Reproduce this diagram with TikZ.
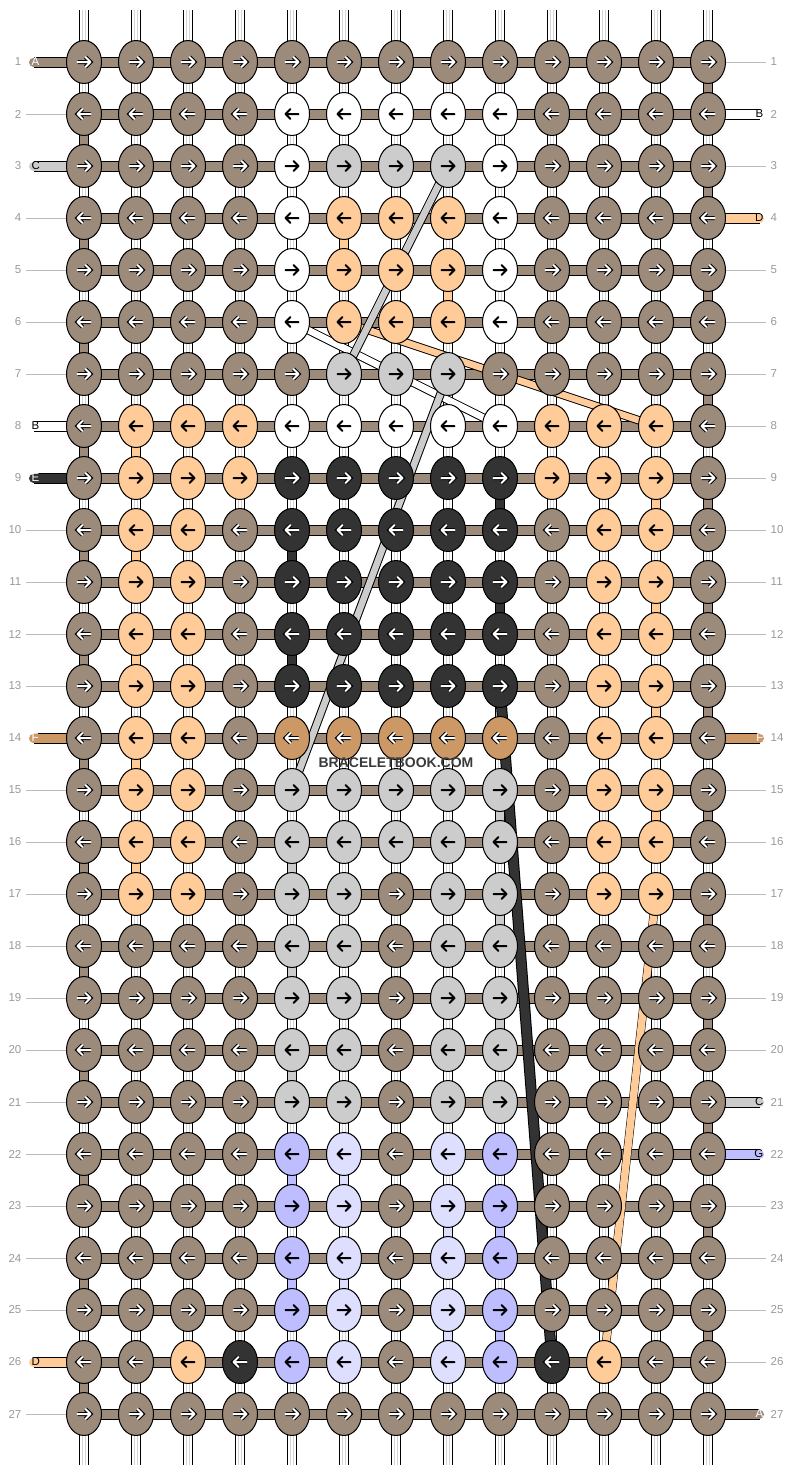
\documentclass[tikz,border=0pt]{standalone}
\usepackage{fontspec}
\setmainfont{Liberation Sans}
\usetikzlibrary{shapes.geometric}

% thread colours
\definecolor{ka}{HTML}{9C8A7A}
\definecolor{kw}{HTML}{FFFFFF}
\definecolor{kg}{HTML}{CCCCCC}
\definecolor{kp}{HTML}{FFCC99}
\definecolor{kd}{HTML}{333333}
\definecolor{kt}{HTML}{CC9966}
\definecolor{kl}{HTML}{BDBDFF}
\definecolor{km}{HTML}{DEDEFF}
% arrow colour and arrow halo for each knot colour
\colorlet{aa}{white}\colorlet{ha}{black}
\colorlet{ad}{white}\colorlet{hd}{black}
\colorlet{at}{white}\colorlet{ht}{black}
\colorlet{aw}{black}\colorlet{hw}{kw}
\colorlet{ag}{black}\colorlet{hg}{kg}
\colorlet{ap}{black}\colorlet{hp}{kp}
\colorlet{al}{black}\colorlet{hl}{kl}
\colorlet{am}{black}\colorlet{hm}{km}
\definecolor{warpline}{HTML}{D4D4D4}
\definecolor{guidegray}{HTML}{BBBBBB}
\definecolor{numgray}{HTML}{999999}
\definecolor{wm}{HTML}{3A3A3A}

\pgfdeclarelayer{warps}
\pgfdeclarelayer{threads}
\pgfdeclarelayer{cross}
\pgfsetlayers{warps,threads,cross,main}

\tikzstyle{knot} = [ellipse, draw=black, line width=1pt,
    minimum width=35pt, minimum height=43pt, inner sep=0pt]
\tikzstyle{warp} = [draw=white, line width=2.2pt, line cap=round,
    preaction={draw=black, line width=10pt},
    preaction={draw=white, line width=8pt},
    preaction={draw=warpline, line width=3.8pt}]
\tikzstyle{bar} = [draw=ka, line width=9pt, preaction={draw=black, line width=11pt}]
\tikzstyle{tail} = [bar, line cap=round]
\tikzstyle{seg} = [line width=8pt, preaction={draw=black, line width=10pt}]
\tikzstyle{diag} = [line width=6.5pt, preaction={draw=black, line width=8.5pt}]
\tikzstyle{wide diag} = [line width=9pt, preaction={draw=black, line width=11pt}]
\tikzstyle{guide} = [draw=guidegray, line width=1pt]
\tikzstyle{rownum} = [text=numgray, font=\fontsize{11.5}{12}\selectfont, inner sep=0pt]
\tikzstyle{tag} = [font=\fontsize{11.5}{12}\selectfont, inner sep=0pt]
\tikzstyle{arrowline} = [line width=2pt, line cap=round, line join=round]

\begin{document}
\begin{tikzpicture}[x=1pt, y=-1pt]
	\useasboundingbox (0,0) rectangle (792,1476);

	% knots, row by row
	\foreach \knots [count=\ri] in {
		{a,a,a,a,a,a,a,a,a,a,a,a,a},
		{a,a,a,a,w,w,w,w,w,a,a,a,a},
		{a,a,a,a,w,g,g,g,w,a,a,a,a},
		{a,a,a,a,w,p,p,p,w,a,a,a,a},
		{a,a,a,a,w,p,p,p,w,a,a,a,a},
		{a,a,a,a,w,p,p,p,w,a,a,a,a},
		{a,a,a,a,a,g,g,g,a,a,a,a,a},
		{a,p,p,p,w,w,w,w,w,p,p,p,a},
		{a,p,p,p,d,d,d,d,d,p,p,p,a},
		{a,p,p,a,d,d,d,d,d,a,p,p,a},
		{a,p,p,a,d,d,d,d,d,a,p,p,a},
		{a,p,p,a,d,d,d,d,d,a,p,p,a},
		{a,p,p,a,d,d,d,d,d,a,p,p,a},
		{a,p,p,a,t,t,t,t,t,a,p,p,a},
		{a,p,p,a,g,g,g,g,g,a,p,p,a},
		{a,p,p,a,g,g,g,g,g,a,p,p,a},
		{a,p,p,a,g,g,a,g,g,a,p,p,a},
		{a,a,a,a,g,g,a,g,g,a,a,a,a},
		{a,a,a,a,g,g,a,g,g,a,a,a,a},
		{a,a,a,a,g,g,a,g,g,a,a,a,a},
		{a,a,a,a,g,g,a,g,g,a,a,a,a},
		{a,a,a,a,l,m,a,m,l,a,a,a,a},
		{a,a,a,a,l,m,a,m,l,a,a,a,a},
		{a,a,a,a,l,m,a,m,l,a,a,a,a},
		{a,a,a,a,l,m,a,m,l,a,a,a,a},
		{a,a,p,d,l,m,a,m,l,d,p,a,a},
		{a,a,a,a,a,a,a,a,a,a,a,a,a}} {
		\pgfmathsetmacro\y{62+52*(\ri-1)}
		\pgfmathtruncatemacro\dir{ifthenelse(isodd(\ri),1,-1)}
		\foreach \kc [count=\ci] in \knots {
			\pgfmathsetmacro\x{84+52*(\ci-1)}
			\node [knot, fill=k\kc] (k\ri-\ci) at (\x,\y) {};
			\draw [arrowline, draw=a\kc, preaction={draw=h\kc, line width=4pt},
				shift={(\x,\y)}, xscale=\dir] (-6.5,0) -- (6.5,0) (1.5,-5) -- (6.5,0) -- (1.5,5);
		}
		\node [rownum, anchor=east] (nl\ri) at (21.5,\y) {\ri};
		\node [rownum, anchor=west] (nr\ri) at (770.5,\y) {\ri};
	}

	% warp strings
	\foreach \ci in {1,...,13} {
		\pgfmathsetmacro\x{84+52*(\ci-1)}
		\coordinate (wt\ci) at (\x,10);
		\coordinate (wb\ci) at (\x,1465);
	}
	\begin{pgfonlayer}{warps}
		\foreach \ci in {1,...,13}
			\path [warp] (wt\ci) -- (wb\ci);
	\end{pgfonlayer}

	% thread ends with their letters
	\foreach \ri/\tc/\tl/\tt in {1/ka/A/white, 3/kg/C/black, 8/kw/B/black,
			9/kd/E/white, 14/kt/F/white, 26/kp/D/black} {
		\pgfmathsetmacro\y{62+52*(\ri-1)}
		\coordinate (ls\ri) at (33.5,\y);
		\node [tag, text=\tt, anchor=west] (lt\ri) at (31.5,\y) {\tl};
		\begin{pgfonlayer}{threads}
			\path [tail, draw=\tc] (ls\ri) -- (k\ri-1.center);
		\end{pgfonlayer}
	}
	\foreach \ri/\tc/\tl/\tt in {2/kw/B/black, 4/kp/D/black, 14/kt/F/white,
			21/kg/C/black, 22/kl/G/black, 27/ka/A/white} {
		\pgfmathsetmacro\y{62+52*(\ri-1)}
		\coordinate (rs\ri) at (759.5,\y);
		\node [tag, text=\tt, anchor=east] (rt\ri) at (763.5,\y) {\tl};
		\begin{pgfonlayer}{threads}
			\path [tail, draw=\tc] (k\ri-13.center) -- (rs\ri);
		\end{pgfonlayer}
	}

	\begin{pgfonlayer}{threads}
		% guide lines to the row numbers
		\foreach \ri in {2,4,5,6,7,10,11,12,13,15,16,17,18,19,20,21,22,23,24,25,27}
			\path [guide] ([xshift=4.5pt]nl\ri.east) -- (k\ri-1.center);
		\foreach \ri in {1,3,5,6,7,8,9,10,11,12,13,15,16,17,18,19,20,23,24,25,26}
			\path [guide] (k\ri-13.center) -- ([xshift=-4.5pt]nr\ri.west);

		% rows
		\foreach \ri in {1,...,27}
			\path [bar] (k\ri-1.center) -- (k\ri-13.center);

		% turns at the edges
		\foreach \ri [evaluate=\ri as \rn using int(\ri+1),
				evaluate=\ri as \ce using int(isodd(\ri)*12+1)] in {1,...,26}
			\path [seg, draw=ka] (k\ri-\ce.center) -- (k\rn-\ce.center);

		% threads going down a row
		\foreach \ri/\ci/\tc [evaluate=\ri as \rn using int(\ri+1)] in {
				4/6/kp, 5/8/kp, 8/2/kp, 9/12/kp, 10/2/kp, 11/12/kp, 12/2/kp,
				13/12/kp, 14/2/kp, 15/12/kp, 16/2/kp,
				9/9/kd, 10/5/kd, 11/9/kd, 12/5/kd,
				15/9/kg, 16/5/kg, 17/9/kg, 18/5/kg, 19/9/kg, 20/5/kg,
				22/5/kl, 23/9/kl, 24/5/kl, 25/9/kl,
				22/6/km, 23/8/km, 24/6/km, 25/8/km}
			\path [seg, draw=\tc] (k\ri-\ci.center) -- (k\rn-\ci.center);
	\end{pgfonlayer}

	% threads carried over several rows
	\begin{pgfonlayer}{cross}
		\path [diag, draw=kw] (k6-5.center) -- (k8-9.center);
		\path [diag, draw=kp] (k6-6.center) -- (k8-12.center);
		\path [diag, draw=kg] (k3-8.center) -- (k7-6.center);
		\path [diag, draw=kg] (k7-8.center) -- (k15-5.center);
		\path [wide diag, draw=kd] (k13-9.center) -- (k26-10.center);
		\path [diag, draw=kp, line width=7.5pt] (k17-12.center) -- (k26-11.center);
	\end{pgfonlayer}

	\node [text=wm, font=\bfseries\fontsize{14}{14}\selectfont, inner sep=0pt] (mark) at (396,763) {BRACELETBOOK.COM};
\end{tikzpicture}
\end{document}
